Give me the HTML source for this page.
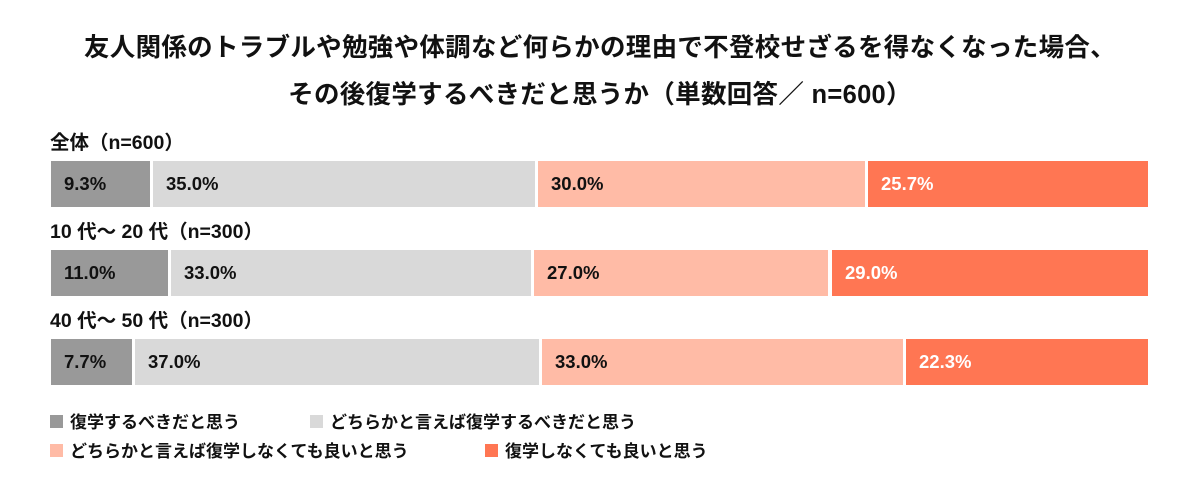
<!DOCTYPE html>
<html><head><meta charset="utf-8"><style>
body{margin:0;width:1200px;height:500px;background:#fff;font-family:"Liberation Sans","Noto Sans CJK JP",sans-serif;font-weight:bold;color:#111;position:relative;overflow:hidden}
.t{position:absolute;left:0;width:1200px;text-align:center;font-size:25.5px;line-height:30px;letter-spacing:0.3px}
.rl{position:absolute;left:50px;font-size:19.5px;line-height:22px}
.s{position:absolute;height:46px;font-size:18.5px;line-height:46px;padding-left:13px;box-sizing:border-box;white-space:nowrap}
.a{background:#999}.b{background:#d9d9d9}.c{background:#ffbba6}.d{background:#ff7653;color:#fff}
.lg{position:absolute;font-size:17px;line-height:20px}
.lg i{display:inline-block;width:13px;height:13px;vertical-align:0px;margin-right:7px}
</style></head><body>
<div class="t" style="top:33px">友人関係のトラブルや勉強や体調など何らかの理由で不登校せざるを得なくなった場合、</div>
<div class="t" style="top:80px">その後復学するべきだと思うか（単数回答／ n=600）</div>

<div class="rl" style="top:132px">全体（n=600）</div>
<div class="s a" style="top:161px;left:51px;width:99px">9.3%</div>
<div class="s b" style="top:161px;left:153px;width:382px">35.0%</div>
<div class="s c" style="top:161px;left:538px;width:327px">30.0%</div>
<div class="s d" style="top:161px;left:868px;width:280px">25.7%</div>

<div class="rl" style="top:221px">10 代～ 20 代（n=300）</div>
<div class="s a" style="top:250px;left:51px;width:117px">11.0%</div>
<div class="s b" style="top:250px;left:171px;width:360px">33.0%</div>
<div class="s c" style="top:250px;left:534px;width:294px">27.0%</div>
<div class="s d" style="top:250px;left:832px;width:316px">29.0%</div>

<div class="rl" style="top:310px">40 代～ 50 代（n=300）</div>
<div class="s a" style="top:339px;left:51px;width:81px">7.7%</div>
<div class="s b" style="top:339px;left:135px;width:404px">37.0%</div>
<div class="s c" style="top:339px;left:542px;width:361px">33.0%</div>
<div class="s d" style="top:339px;left:906px;width:242px">22.3%</div>

<div class="lg" style="top:413px;left:50px"><i class="a"></i>復学するべきだと思う</div>
<div class="lg" style="top:413px;left:310px"><i class="b"></i>どちらかと言えば復学するべきだと思う</div>
<div class="lg" style="top:442px;left:50px"><i class="c"></i>どちらかと言えば復学しなくても良いと思う</div>
<div class="lg" style="top:442px;left:485px"><i class="d"></i>復学しなくても良いと思う</div>
</body></html>
